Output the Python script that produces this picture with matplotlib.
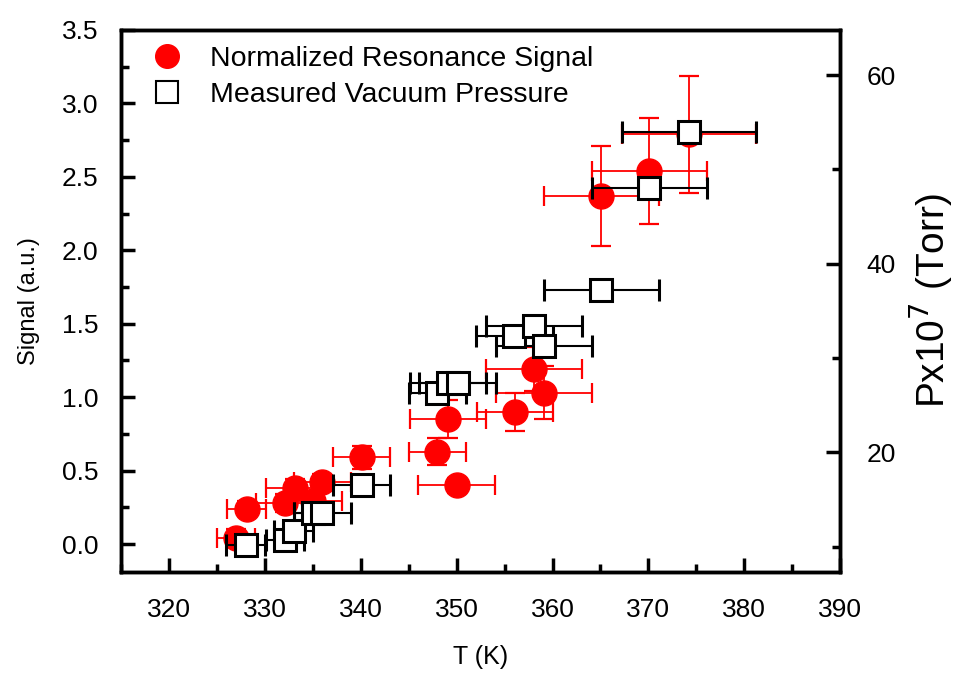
import numpy as np
import matplotlib.pyplot as plt
from matplotlib.lines import Line2D
from matplotlib.ticker import MultipleLocator

plt.rcParams['font.family'] = ['Liberation Sans', 'DejaVu Sans']

# resonance signal (left axis)
T_sig = [327.0, 328.1, 332.1, 333.1, 335.0, 336.0, 340.1, 348.0, 349.1, 350.0,
         356.1, 358.1, 359.1, 365.1, 370.1, 374.2]
signal = [0.04, 0.24, 0.28, 0.38, 0.29, 0.42, 0.59, 0.63, 0.85, 0.40,
          0.90, 1.19, 1.03, 2.37, 2.54, 2.79]
T_sig_err = [2, 2, 3, 3, 3, 3, 3, 3, 4, 4, 4, 5, 5, 6, 6, 7]
signal_err = [0.06, 0.05, 0.06, 0.06, 0.06, 0.06, 0.08, 0.09, 0.13, 0.05,
              0.13, 0.15, 0.18, 0.34, 0.36, 0.40]

# vacuum pressure (right axis)
T_p = [328.0, 332.1, 333.0, 335.0, 336.0, 340.1, 348.0, 349.1, 350.1,
       356.0, 358.1, 359.1, 365.1, 370.1, 374.2]
pressure = [10.2, 10.7, 11.6, 13.6, 13.6, 16.5, 26.3, 27.3, 27.3,
            32.3, 33.4, 31.3, 37.2, 48.0, 54.0]
T_p_err = [2, 2, 2, 2, 3, 3, 3, 4, 4, 4, 5, 5, 6, 6, 7]

fig = plt.figure(figsize=(9.57, 6.75), dpi=100)
ax = fig.add_axes([0.1264, 0.1526, 0.7516, 0.803])
ax2 = ax.twinx()
ax2.patch.set_visible(False)

ax.errorbar(T_sig, signal, xerr=T_sig_err, yerr=signal_err, fmt='o', color='red',
            ms=18, elinewidth=1.3, capsize=7.5, capthick=1.6)
ax2.errorbar(T_p, pressure, xerr=T_p_err, fmt='s', mfc='white', mec='black',
             mew=2.2, ecolor='black', ms=16, elinewidth=1.5, capsize=8, capthick=2.2)

ax.set_xlim(315, 390)
ax.set_ylim(-0.19, 3.5)
ax2.set_ylim(7.3, 64.8)

ax.xaxis.set_major_locator(MultipleLocator(10))
ax.xaxis.set_minor_locator(MultipleLocator(5))
ax.yaxis.set_major_locator(MultipleLocator(0.5))
ax.yaxis.set_minor_locator(MultipleLocator(0.25))
ax2.yaxis.set_major_locator(MultipleLocator(20))
ax2.yaxis.set_minor_locator(MultipleLocator(10))
ax.yaxis.set_major_formatter(plt.FormatStrFormatter('%.1f'))

for a in (ax, ax2):
    for s in a.spines.values():
        s.set_linewidth(2.5)
    a.tick_params(which='major', direction='in', length=10, width=2.5, labelsize=19, pad=16)
    a.tick_params(which='minor', direction='in', length=6, width=2.5)
ax.tick_params(axis='x', pad=19)
ax2.tick_params(axis='y', pad=19)

ax.set_xlabel('T (K)', fontsize=18, labelpad=16)
ax.set_ylabel('Signal (a.u.)', fontsize=17, labelpad=16)
ax2.set_ylabel('Px10$^7$ (Torr)', fontsize=28, labelpad=8)

handles = [Line2D([], [], marker='o', color='red', ls='none', ms=17),
           Line2D([], [], marker='s', mfc='white', mec='black', mew=1.5, ls='none', ms=16)]
ax.legend(handles, ['Normalized Resonance Signal', 'Measured Vacuum Pressure'],
          loc='upper left', bbox_to_anchor=(-0.011, 1.017), frameon=False, fontsize=20.5,
          handletextpad=0.5, labelspacing=0.35)

fig.savefig('out.png', dpi=100)
